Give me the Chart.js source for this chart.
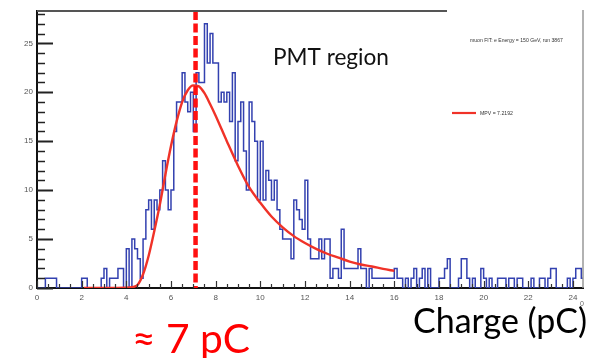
<!DOCTYPE html>
<html><head><meta charset="utf-8">
<script src="https://cdn.jsdelivr.net/npm/chart.js@4.4.1/dist/chart.umd.min.js"></script>
<style>html,body{margin:0;padding:0;background:#fff;}#wrap{position:relative;width:597px;height:358px;}</style>
</head><body><div id="wrap"><canvas id="c" width="597" height="358"></canvas></div>
<script>
// ---- data ----
const binWidth = 0.125;       // pC per histogram bin
const counts = [
 0,0,0,1,1,1,1,0,0,0,0,0,0,0,0,0,
 1,1,0,0,0,0,0,1,2,0,1,1,1,2,2,0,
 4,0,5,4,3,1,5,8,9,6,9,8,10,13,10,8,
 10,16,19,19,22,19,18,20,16,22,21,21,27,23,26,23,
 23,19,20,19,20,17,22,13,17,19,14,10,19,17,15,9,
 15,9,12,11,9,11,8,6,5,5,5,3,9,8,7,6,
 11,5,3,3,3,5,3,5,5,1,2,2,1,6,2,2,
 2,2,2,4,2,2,0,2,1,1,1,1,1,1,1,1,
 2,1,1,0,1,0,1,2,0,1,2,0,2,0,0,0,
 1,1,2,3,0,0,0,1,3,3,1,0,1,0,0,2,
 1,0,1,0,0,1,1,1,0,1,1,0,1,1,0,0,
 0,1,0,0,1,1,0,1,2,2,0,0,0,0,1,0,
 1,2,2,1
];
const fitX = [2.1,3.0,4.0,4.3,4.5,4.75,5.0,5.25,5.5,5.75,6.0,6.25,6.5,6.75,7.0,7.25,7.5,7.75,8.0,8.5,9.0,9.5,10.0,10.5,11.0,11.5,12.0,12.5,13.0,13.5,14.0,14.5,15.0,15.5,16.0];
const fitY = [0,0,0.02,0.1,0.3,1.4,3.3,5.8,8.5,11.6,14.5,17.0,19.0,20.2,20.7,20.6,19.9,18.8,17.6,15.0,12.5,10.3,8.7,7.3,6.2,5.3,4.6,4.0,3.5,3.1,2.7,2.4,2.2,1.95,1.75];
const mpvMarker = 7.1;        // dashed marker position (pC)
const xRange = [0, 24.45];
const yRange = [0, 28.3];
const xTickStep = 2, xMinorStep = 0.5;
const yTickStep = 5, yMinorStep = 1;
const statText = "muon FIT: e Energy = 150 GeV, run 3867";
const legendText = "MPV = 7.2192";
const regionText = "PMT region";
const peakText = "\u2248 7 pC";
const axisTitle = "Charge (pC)";

// ---- build datasets ----
const histPoints = counts.map((c, i) => ({x: i * binWidth, y: c}));
histPoints.push({x: counts.length * binWidth, y: counts[counts.length - 1]});
const fitPoints = fitX.map((x, i) => ({x: x, y: fitY[i]}));
const mpvPoints = [{x: mpvMarker, y: yRange[1]}, {x: mpvMarker, y: yRange[0]}];

function fitText(ctx, text, family, weight, left, baseline, width, color) {
  ctx.font = weight + ' 40px ' + family;
  const w = ctx.measureText(text).width;
  const size = 40 * width / w;
  ctx.font = weight + ' ' + size.toFixed(2) + 'px ' + family;
  ctx.fillStyle = color;
  ctx.textAlign = 'left';
  ctx.textBaseline = 'alphabetic';
  ctx.fillText(text, left, baseline);
}

const framePlugin = {
  id: 'frame',
  afterDatasetsDraw(chart) {
    const {ctx, chartArea: a, scales: {x, y}} = chart;
    ctx.save();
    // top frame (partial) and right edge
    ctx.strokeStyle = '#555'; ctx.lineWidth = 2;
    ctx.beginPath(); ctx.moveTo(a.left, a.top); ctx.lineTo(447, a.top); ctx.stroke();
    ctx.strokeStyle = '#999'; ctx.lineWidth = 1.5;
    ctx.beginPath(); ctx.moveTo(a.right, a.top - 1); ctx.lineTo(a.right, a.bottom); ctx.stroke();
    // inner y ticks
    ctx.strokeStyle = '#222';
    for (let v = yRange[0]; v <= yRange[1]; v += yMinorStep) {
      const major = Math.abs(v % yTickStep) < 1e-9;
      const py = Math.round(y.getPixelForValue(v)) + 0.5;
      ctx.lineWidth = major ? 2 : 1.5;
      ctx.beginPath(); ctx.moveTo(a.left, py); ctx.lineTo(a.left + (major ? 16 : 8), py); ctx.stroke();
    }
    // inner x ticks
    ctx.strokeStyle = '#333';
    for (let v = xRange[0]; v <= xRange[1] + 1e-9; v += xMinorStep) {
      const major = Math.abs(v % xTickStep) < 1e-9;
      const px = Math.round(x.getPixelForValue(v)) + 0.5;
      ctx.lineWidth = 1.2;
      ctx.beginPath(); ctx.moveTo(px, a.bottom); ctx.lineTo(px, a.bottom - (major ? 7 : 4)); ctx.stroke();
    }
    ctx.restore();
  },
  afterDraw(chart) {
    const ctx = chart.ctx;
    ctx.save();
    fitText(ctx, regionText, 'Lato', 'normal', 273, 65, 116, '#111');
    fitText(ctx, peakText, 'Lato', 'normal', 132, 353, 118, '#ff0000');
    fitText(ctx, axisTitle, 'Lato', 'normal', 413, 333, 174, '#000');
    fitText(ctx, statText, 'Liberation Sans Narrow, Liberation Sans', 'normal', 470, 42, 93, '#333');
    // legend entry
    ctx.strokeStyle = '#f03228'; ctx.lineWidth = 2.2;
    ctx.beginPath(); ctx.moveTo(452, 113); ctx.lineTo(476, 113); ctx.stroke();
    fitText(ctx, legendText, 'Liberation Sans Narrow, Liberation Sans', 'normal', 480, 115, 33, '#333');
    ctx.font = '7px Liberation Sans'; ctx.fillStyle = '#666';
    ctx.fillText('0', 580, 306);
    ctx.restore();
  }
};

new Chart(document.getElementById('c'), {
  type: 'line',
  data: {datasets: [
    {label: 'hist', data: histPoints, stepped: true, borderColor: '#3341b0', borderWidth: 1.5, pointRadius: 0, fill: false, order: 3},
    {label: legendText, data: fitPoints, borderColor: '#f03228', borderWidth: 2.4, pointRadius: 0, fill: false, cubicInterpolationMode: 'monotone', order: 2},
    {label: 'MPV marker', data: mpvPoints, borderColor: '#ff1010', borderWidth: 4.5, borderDash: [9, 3.5], pointRadius: 0, fill: false, order: 1}
  ]},
  options: {
    responsive: false, animation: false, devicePixelRatio: 1,
    layout: {padding: {left: 0, top: 11, right: 14, bottom: 0}},
    plugins: {legend: {display: false}, tooltip: {enabled: false}},
    scales: {
      x: {type: 'linear', min: xRange[0], max: xRange[1],
          afterFit: s => { s.height = 70; },
          grid: {display: false, drawTicks: false},
          border: {display: true, color: '#111', width: 2},
          ticks: {stepSize: xTickStep, includeBounds: false, padding: 5, color: '#555', maxRotation: 0, autoSkip: false,
                  font: {family: 'Liberation Sans', size: 8}}},
      y: {type: 'linear', min: yRange[0], max: yRange[1],
          afterFit: s => { s.width = 37; },
          grid: {display: false, drawTicks: false},
          border: {display: true, color: '#111', width: 2},
          ticks: {stepSize: yTickStep, includeBounds: false, padding: 4, color: '#555',
                  font: {family: 'Liberation Sans', size: 8}}}
    }
  },
  plugins: [framePlugin]
});
</script></body></html>
